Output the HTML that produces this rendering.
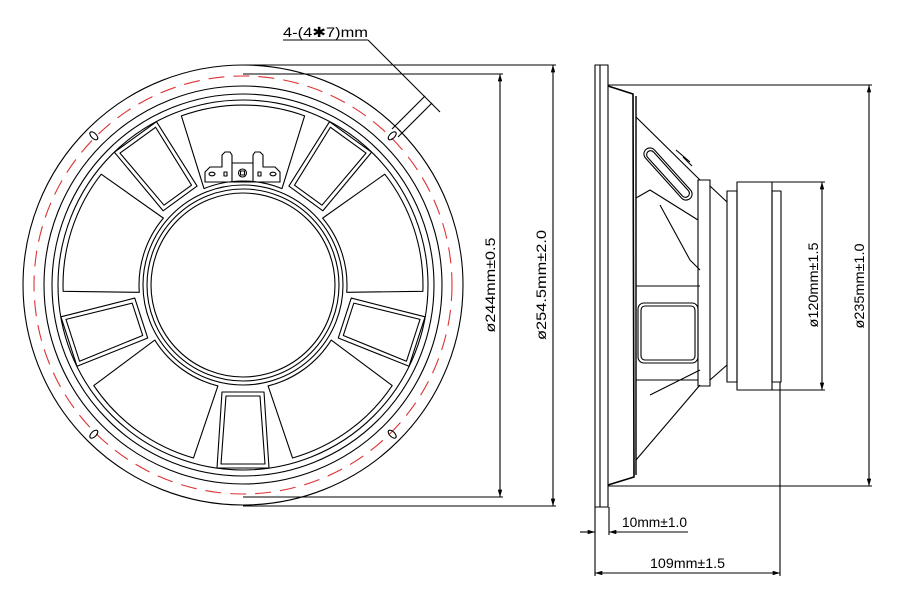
<!DOCTYPE html>
<html><head><meta charset="utf-8"><style>
html,body{margin:0;padding:0;background:#fff;}
svg{display:block;}
text{font-family:"Liberation Sans",sans-serif;font-size:14px;fill:#000;}
</style></head><body>
<svg width="900" height="606" viewBox="0 0 900 606" xmlns="http://www.w3.org/2000/svg">
<defs>
<marker id="ar" viewBox="0 0 10 6" refX="10" refY="3" markerWidth="8" markerHeight="4" orient="auto-start-reverse"><path d="M0,0 L10,3 L0,6 Z" fill="#000"/></marker>
<g id="op"><path d="M -39,-96.4 L -61.6,-169.1 A 180 180 0 0 1 61.6,-169.1 L 39,-96.4 A 104 104 0 0 0 -39,-96.4 Z"/></g>
<g id="wn"><path d="M -21,107 L 21,107 L 26,183 L -26,183 Z"/><path d="M -17,111 L 17,111 L 22,179 L -22,179 Z"/></g>
<g id="sl"><ellipse cx="0" cy="-211" rx="2.6" ry="5"/></g>
</defs>
<g fill="none" stroke="#000" stroke-width="1.1" stroke-linejoin="round">
<!-- FRONT VIEW -->
<g transform="translate(243,285)">
<circle r="220"/>
<circle r="209" stroke="#d33" stroke-dasharray="16,9"/>
<circle r="199"/>
<circle r="191"/>
<circle r="185"/>
<circle r="100"/>
<circle r="96"/>
<circle r="92"/>
<use href="#op"/><use href="#op" transform="rotate(72)"/><use href="#op" transform="rotate(144)"/><use href="#op" transform="rotate(216)"/><use href="#op" transform="rotate(288)"/>
<use href="#wn"/><use href="#wn" transform="rotate(72)"/><use href="#wn" transform="rotate(144)"/><use href="#wn" transform="rotate(216)"/><use href="#wn" transform="rotate(288)"/>
<use href="#sl" transform="rotate(45)"/><use href="#sl" transform="rotate(-45)"/><use href="#sl" transform="rotate(135)"/><use href="#sl" transform="rotate(225)"/>
</g>
<!-- terminal -->
<path d="M205,182 L205,172 L210,167 L222,167 L222,155 L225,152 L230,152 L232,155 L232,163 L253,163 L253,155 L255,152 L260,152 L263,155 L263,167 L275,167 L280,172 L280,182 Z"/>
<rect x="232" y="163" width="21" height="19"/>
<circle cx="242.5" cy="173" r="4"/><rect x="240.5" y="171" width="4" height="4"/>
<ellipse cx="212" cy="174" rx="3" ry="1.8"/><ellipse cx="273" cy="174" rx="3" ry="1.8"/>
<rect x="224" y="172" width="3" height="4"/><rect x="258" y="172" width="3" height="4"/>
<!-- leader -->
<line x1="283" y1="40" x2="368" y2="40"/>
<line x1="368" y1="40" x2="440" y2="112"/>
<line x1="425" y1="96" x2="392" y2="129"/>
<line x1="432" y1="103" x2="398" y2="137"/>
<!-- dims front -->
<line x1="243" y1="65" x2="556" y2="65"/>
<line x1="243" y1="506" x2="556" y2="506"/>
<line x1="553" y1="65" x2="553" y2="506" marker-start="url(#ar)" marker-end="url(#ar)"/>
<line x1="243" y1="74" x2="503" y2="74"/>
<line x1="243" y1="497" x2="503" y2="497"/>
<line x1="500" y1="74" x2="500" y2="497" marker-start="url(#ar)" marker-end="url(#ar)"/>
<!-- SIDE VIEW -->
<rect x="595" y="65" width="13" height="442"/>
<line x1="600" y1="65" x2="600" y2="507"/>
<line x1="608" y1="85" x2="872" y2="85"/>
<line x1="608" y1="486" x2="872" y2="486"/>
<path d="M608,86 L633,94 L634,477 L608,485" stroke-width="1.6"/>
<line x1="636" y1="96" x2="636" y2="475" stroke-width="1.4"/>
<line x1="636" y1="117" x2="700" y2="180"/>
<line x1="636" y1="460" x2="700" y2="385"/>
<rect x="-6" y="-33" width="12" height="66" rx="6" transform="translate(668,174) rotate(-42)"/>
<rect x="-4" y="-30" width="8" height="60" rx="4" transform="translate(668,174) rotate(-42)"/>
<path d="M676,150 L690,162 M683,157 L692,166"/>
<rect x="638" y="303" width="60" height="60" rx="6"/>
<rect x="641" y="306" width="54" height="54" rx="4"/>
<path d="M636,198 L650,190 L698,220 M636,286 L700,286 M636,380 L698,380 M660,205 L690,260 L700,270 M650,395 L700,370"/>
<rect x="698" y="180" width="12" height="206"/>
<path d="M710,186 L727,202 M710,380 L727,365"/>
<rect x="727" y="191" width="10" height="191"/>
<rect x="737" y="182" width="35" height="208"/>
<rect x="772" y="191" width="9" height="191"/>
<line x1="772" y1="182" x2="825" y2="182"/>
<line x1="772" y1="390" x2="825" y2="390"/>
<line x1="822" y1="182" x2="822" y2="390" marker-start="url(#ar)" marker-end="url(#ar)"/>
<line x1="869" y1="85" x2="869" y2="486" marker-start="url(#ar)" marker-end="url(#ar)"/>
<line x1="780" y1="382" x2="780" y2="576"/>
<line x1="595" y1="507" x2="595" y2="576"/>
<line x1="609" y1="507" x2="609" y2="535"/>
<line x1="595" y1="573" x2="780" y2="573" marker-start="url(#ar)" marker-end="url(#ar)"/>
<line x1="580" y1="532" x2="595" y2="532" marker-end="url(#ar)"/>
<line x1="688" y1="532" x2="609" y2="532" marker-end="url(#ar)"/>
</g>
<text x="283" y="37" textLength="85" lengthAdjust="spacingAndGlyphs">4-(4✱7)mm</text>
<text transform="translate(546,285) rotate(-90)" text-anchor="middle" textLength="110" lengthAdjust="spacingAndGlyphs">ø254.5mm±2.0</text>
<text transform="translate(495,285) rotate(-90)" text-anchor="middle" textLength="95" lengthAdjust="spacingAndGlyphs">ø244mm±0.5</text>
<text transform="translate(818,285) rotate(-90)" text-anchor="middle" textLength="85" lengthAdjust="spacingAndGlyphs">ø120mm±1.5</text>
<text transform="translate(864,286) rotate(-90)" text-anchor="middle" textLength="85" lengthAdjust="spacingAndGlyphs">ø235mm±1.0</text>
<text x="622" y="527" textLength="65" lengthAdjust="spacingAndGlyphs">10mm±1.0</text>
<text x="650" y="568" textLength="75" lengthAdjust="spacingAndGlyphs">109mm±1.5</text>
</svg>
</body></html>
